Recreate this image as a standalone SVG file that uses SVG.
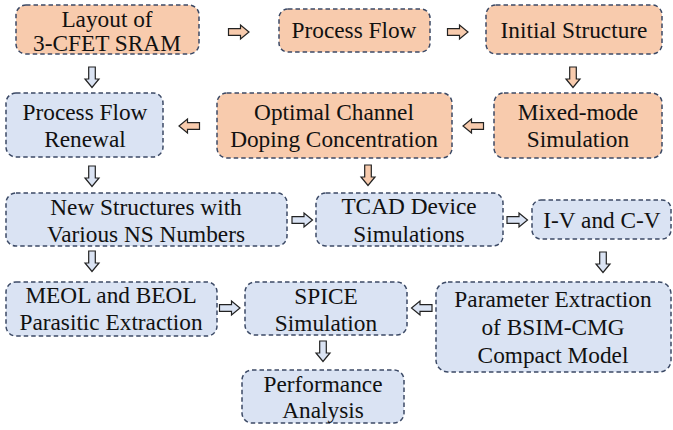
<svg xmlns="http://www.w3.org/2000/svg" xmlns:xlink="http://www.w3.org/1999/xlink" width="673" height="430" viewBox="0 0 673 430">
<style>
.o{fill:#f8cbad;stroke:#3c4a66;stroke-width:1.5;stroke-dasharray:4.5 3}
.b{fill:#dae3f3;stroke:#3c4a66;stroke-width:1.5;stroke-dasharray:4.5 3}
.ao{fill:#f8cbad;stroke:#222;stroke-width:1.2}
.ab{fill:#dae3f3;stroke:#222;stroke-width:1.2}
text{font-family:"Liberation Serif","Times New Roman",serif;font-size:23.3px;fill:#111;text-anchor:middle}
</style>
<defs>
<path id="ar" d="M-10,-3.3 H2 V-7 L10.5,0 L2,7 V3.3 H-10 Z"/>
</defs>
<g id="n1"><rect class="o" x="16" y="5" width="183" height="49" rx="10"/><text x="107" y="27">Layout of</text><text x="107" y="51">3-CFET SRAM</text></g>
<g id="n2"><rect class="o" x="279" y="9" width="151" height="43" rx="9"/><text x="354" y="38">Process Flow</text></g>
<g id="n3"><rect class="o" x="486" y="5" width="176" height="49" rx="10"/><text x="574" y="38">Initial Structure</text></g>
<g id="n4"><rect class="o" x="494" y="93" width="168" height="65" rx="10"/><text x="578" y="120">Mixed-mode</text><text x="578" y="147">Simulation</text></g>
<g id="n5"><rect class="o" x="217" y="93" width="235" height="65" rx="10"/><text x="334" y="120">Optimal Channel</text><text x="334" y="147">Doping Concentration</text></g>
<g id="n6"><rect class="b" x="6" y="93" width="157" height="64" rx="10"/><text x="85" y="120">Process Flow</text><text x="85" y="147">Renewal</text></g>
<g id="n7"><rect class="b" x="6" y="193" width="281" height="53" rx="10"/><text x="146" y="215">New Structures with</text><text x="146" y="242">Various NS Numbers</text></g>
<g id="n8"><rect class="b" x="316" y="193" width="187" height="53" rx="10"/><text x="409" y="214">TCAD Device</text><text x="409" y="242">Simulations</text></g>
<g id="n9"><rect class="b" x="532" y="200" width="139" height="39" rx="9"/><text x="602" y="228">I-V and C-V</text></g>
<g id="n10"><rect class="b" x="436" y="282" width="235" height="90" rx="12"/><text x="553" y="307">Parameter Extraction</text><text x="553" y="335">of BSIM-CMG</text><text x="553" y="363">Compact Model</text></g>
<g id="n11"><rect class="b" x="245" y="282" width="162" height="53" rx="10"/><text x="326" y="304">SPICE</text><text x="326" y="331">Simulation</text></g>
<g id="n12"><rect class="b" x="6" y="282" width="211" height="54" rx="10"/><text x="111" y="303">MEOL and BEOL</text><text x="111" y="330">Parasitic Extraction</text></g>
<g id="n13"><rect class="b" x="242" y="370" width="162" height="53" rx="10"/><text x="323" y="392">Performance</text><text x="323" y="418">Analysis</text></g>
<g id="connectors">
<use xlink:href="#ar" class="ao" transform="translate(238.5,32)"/>
<use xlink:href="#ar" class="ao" transform="translate(457.5,32)"/>
<use xlink:href="#ar" class="ao" transform="translate(573,77) rotate(90)"/>
<use xlink:href="#ar" class="ao" transform="translate(473.5,126) rotate(180)"/>
<use xlink:href="#ar" class="ao" transform="translate(189.5,126) rotate(180)"/>
<use xlink:href="#ar" class="ab" transform="translate(92,77) rotate(90)"/>
<use xlink:href="#ar" class="ab" transform="translate(92,176) rotate(90)"/>
<use xlink:href="#ar" class="ao" transform="translate(368,175) rotate(90)"/>
<use xlink:href="#ar" class="ab" transform="translate(302,220)"/>
<use xlink:href="#ar" class="ab" transform="translate(517,220)"/>
<use xlink:href="#ar" class="ab" transform="translate(603,262) rotate(90)"/>
<use xlink:href="#ar" class="ab" transform="translate(422,308) rotate(180)"/>
<use xlink:href="#ar" class="ab" transform="translate(229.5,308)"/>
<use xlink:href="#ar" class="ab" transform="translate(92,261) rotate(90)"/>
<use xlink:href="#ar" class="ab" transform="translate(323,351) rotate(90)"/>
</g>
</svg>
